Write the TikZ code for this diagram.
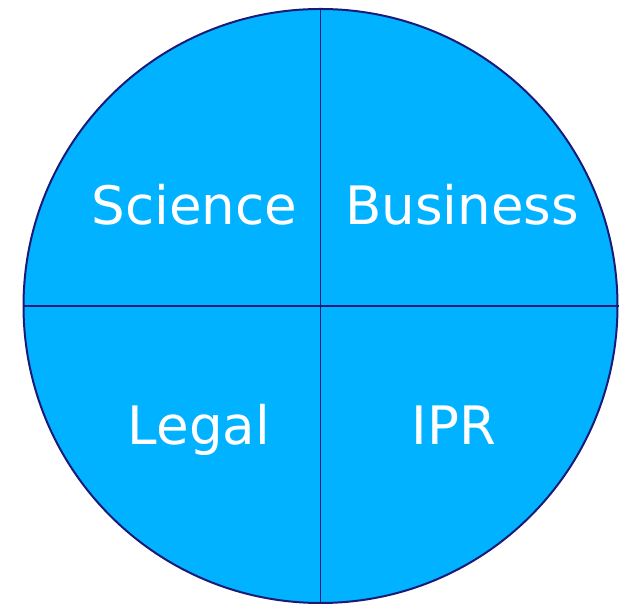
\documentclass[tikz,border=0pt]{standalone}
\usepackage{fontspec}
\setmainfont{DejaVu Sans}
\definecolor{quadfill}{RGB}{0,178,255}
\definecolor{quadline}{RGB}{26,26,120}
\tikzset{
  quadrant/.style={text=white, anchor=base, font=\fontsize{53}{60}\selectfont},
}
\begin{document}
\begin{tikzpicture}[x=1pt,y=1pt]
  \useasboundingbox (0,0) rectangle (622,604);
  % the disc and its two dividing lines
  \node[circle, draw=quadline, fill=quadfill, line width=2pt,
        inner sep=0pt, minimum size=594pt] (disc) at (320.5,298) {};
  \draw[quadline, line width=1.8pt] (disc.north) -- (disc.south);
  \draw[quadline, line width=1.8pt] (disc.west) -- (disc.east);
  % one label per quarter
  \node[quadrant] (science)  at (194.5,379) {Science};
  \node[quadrant] (business) at (462,379)   {Business};
  \node[quadrant] (legal)    at (199,159)   {Legal};
  \node[quadrant] (ipr)      at (454,159)   {IPR};
\end{tikzpicture}
\end{document}
